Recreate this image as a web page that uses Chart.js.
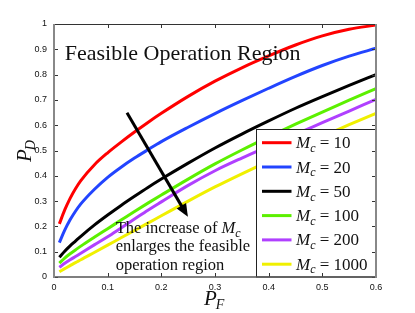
<!DOCTYPE html>
<html>
<head>
<meta charset="utf-8">
<script src="https://cdn.jsdelivr.net/npm/chart.js@4.4.1/dist/chart.umd.min.js"></script>
<style>
  html, body { margin: 0; padding: 0; background: #fff; }
  canvas { display: block; }
</style>
</head>
<body>
<canvas id="chart" width="415" height="313"></canvas>
<script>
// false alarm probability (x) and detection probability per M_c (y)
var pf = [0.01, 0.02, 0.03, 0.04, 0.05, 0.075, 0.1, 0.125, 0.15, 0.175, 0.2, 0.25, 0.3, 0.35, 0.4, 0.45, 0.5, 0.55, 0.6];
var mcValues = [10, 20, 50, 100, 200, 1000];
var pdMc10   = [0.21, 0.265, 0.311, 0.349, 0.381, 0.443, 0.491, 0.533, 0.573, 0.611, 0.647, 0.714, 0.774, 0.827, 0.874, 0.917, 0.953, 0.979, 0.996];
var pdMc20   = [0.136, 0.185, 0.226, 0.26, 0.289, 0.346, 0.394, 0.434, 0.47, 0.503, 0.535, 0.592, 0.646, 0.697, 0.746, 0.793, 0.836, 0.873, 0.904];
var pdMc50   = [0.078, 0.102, 0.123, 0.142, 0.161, 0.205, 0.245, 0.283, 0.319, 0.354, 0.387, 0.45, 0.51, 0.565, 0.617, 0.667, 0.713, 0.757, 0.80];
var pdMc100  = [0.055, 0.075, 0.092, 0.107, 0.122, 0.157, 0.191, 0.225, 0.259, 0.292, 0.324, 0.387, 0.447, 0.502, 0.554, 0.604, 0.652, 0.699, 0.745];
var pdMc200  = [0.038, 0.054, 0.068, 0.081, 0.094, 0.127, 0.159, 0.194, 0.229, 0.264, 0.297, 0.362, 0.42, 0.47, 0.517, 0.564, 0.61, 0.656, 0.702];
var pdMc1000 = [0.021, 0.033, 0.045, 0.057, 0.068, 0.097, 0.126, 0.155, 0.184, 0.213, 0.242, 0.30, 0.356, 0.408, 0.458, 0.507, 0.555, 0.602, 0.647];
var xTicks = [0, 0.1, 0.2, 0.3, 0.4, 0.5, 0.6];
var yTicks = [0, 0.1, 0.2, 0.3, 0.4, 0.5, 0.6, 0.7, 0.8, 0.9, 1];

var colors = ['#ff0000', '#2244ff', '#000000', '#5cf000', '#b040ff', '#f0f000'];
var series = [pdMc10, pdMc20, pdMc50, pdMc100, pdMc200, pdMc1000];

var serif = '"Liberation Serif", "Times New Roman", serif';

function toPoints(ys) {
    return pf.map(function(x, i) { return { x: x, y: ys[i] }; });
}

// draws "M_c = n" style text, returns width
function drawMc(ctx, x, y, size, tail) {
    ctx.textAlign = 'left';
    ctx.textBaseline = 'alphabetic';
    ctx.font = 'italic ' + size + 'px ' + serif;
    ctx.fillText('M', x, y);
    var w = ctx.measureText('M').width;
    ctx.font = 'italic ' + Math.round(size * 0.7) + 'px ' + serif;
    ctx.fillText('c', x + w, y + size * 0.22);
    w += ctx.measureText('c').width;
    if (tail) {
        ctx.font = size + 'px ' + serif;
        ctx.fillText(tail, x + w, y);
        w += ctx.measureText(tail).width;
    }
    return w;
}

var decor = {
    id: 'decor',
    afterDatasetsDraw: function(chart) {
        var ctx = chart.ctx;
        var a = chart.chartArea;
        var xs = chart.scales.x, ys = chart.scales.y;
        ctx.save();

        // title inside plot
        ctx.fillStyle = '#111';
        ctx.font = '22px ' + serif;
        ctx.textAlign = 'left';
        ctx.fillText('Feasible Operation Region', xs.getPixelForValue(0.02), ys.getPixelForValue(0.858));

        // arrow
        var x0 = xs.getPixelForValue(0.136), y0 = ys.getPixelForValue(0.649);
        var x1 = xs.getPixelForValue(0.2495), y1 = ys.getPixelForValue(0.238);
        var ang = Math.atan2(y1 - y0, x1 - x0);
        var head = 14;
        ctx.strokeStyle = '#000';
        ctx.lineWidth = 3;
        ctx.beginPath();
        ctx.moveTo(x0, y0);
        ctx.lineTo(x1 - Math.cos(ang) * head * 0.8, y1 - Math.sin(ang) * head * 0.8);
        ctx.stroke();
        ctx.fillStyle = '#000';
        ctx.beginPath();
        ctx.moveTo(x1, y1);
        ctx.lineTo(x1 - head * Math.cos(ang - 0.4), y1 - head * Math.sin(ang - 0.4));
        ctx.lineTo(x1 - head * Math.cos(ang + 0.4), y1 - head * Math.sin(ang + 0.4));
        ctx.closePath();
        ctx.fill();

        // annotation text
        ctx.fillStyle = '#111';
        var tx = xs.getPixelForValue(0.115), ty = ys.getPixelForValue(0.174);
        ctx.font = '16.5px ' + serif;
        ctx.fillText('The increase of ', tx, ty);
        var w = ctx.measureText('The increase of ').width;
        drawMc(ctx, tx + w, ty, 16.5, '');
        ctx.font = '16.5px ' + serif;
        ctx.fillText('enlarges the feasible', tx, ty + 18.5);
        ctx.fillText('operation region', tx, ty + 37);

        // legend box
        var lx = a.right - 119.5, ly = 129.5, lw = 119.5, lh = a.bottom - ly;
        ctx.fillStyle = '#fff';
        ctx.fillRect(lx, ly, lw, lh);
        ctx.strokeStyle = '#222';
        ctx.lineWidth = 1;
        ctx.strokeRect(lx, ly, lw, lh);
        chart.data.datasets.forEach(function(ds, i) {
            var cy = 142.7 + i * 24.3;
            ctx.strokeStyle = ds.borderColor;
            ctx.lineWidth = 3;
            ctx.beginPath();
            ctx.moveTo(lx + 5.5, cy);
            ctx.lineTo(lx + 35, cy);
            ctx.stroke();
            ctx.fillStyle = '#111';
            drawMc(ctx, lx + 39.5, cy + 5.5, 17, ' = ' + mcValues[i]);
        });

        // box and inward ticks
        ctx.lineCap = 'butt';
        ctx.strokeStyle = '#333';
        ctx.lineWidth = 1;
        xTicks.forEach(function(v) {
            var px = Math.round(xs.getPixelForValue(v)) + 0.5;
            ctx.beginPath();
            ctx.moveTo(px, a.bottom); ctx.lineTo(px, a.bottom - 4);
            ctx.moveTo(px, a.top); ctx.lineTo(px, a.top + 4);
            ctx.stroke();
        });
        yTicks.forEach(function(v) {
            var py = Math.round(ys.getPixelForValue(v)) + 0.5;
            ctx.beginPath();
            ctx.moveTo(a.left, py); ctx.lineTo(a.left + 4, py);
            ctx.moveTo(a.right, py); ctx.lineTo(a.right - 4, py);
            ctx.stroke();
        });
        ctx.strokeStyle = '#333';
        ctx.lineWidth = 1;
        ctx.beginPath();
        ctx.moveTo(a.left, a.top + 0.5); ctx.lineTo(a.right, a.top + 0.5);
        ctx.stroke();
        ctx.strokeStyle = '#555';
        ctx.lineWidth = 1.5;
        ctx.beginPath();
        ctx.moveTo(a.left, a.bottom); ctx.lineTo(a.right, a.bottom);
        ctx.stroke();
        ctx.strokeStyle = '#888';
        ctx.lineWidth = 2;
        ctx.beginPath();
        ctx.moveTo(a.left, a.top); ctx.lineTo(a.left, a.bottom + 1);
        ctx.moveTo(a.right, a.top); ctx.lineTo(a.right, a.bottom + 1);
        ctx.stroke();

        // axis titles
        ctx.fillStyle = '#111';
        ctx.font = 'italic 21px ' + serif;
        ctx.textAlign = 'left';
        ctx.fillText('P', 204, 305);
        var pw = ctx.measureText('P').width;
        ctx.font = 'italic 14px ' + serif;
        ctx.fillText('F', 204 + pw - 1, 309);

        ctx.translate(31, 162);
        ctx.rotate(-Math.PI / 2);
        ctx.font = 'italic 21px ' + serif;
        ctx.fillText('P', 0, 0);
        pw = ctx.measureText('P').width;
        ctx.font = 'italic 14px ' + serif;
        ctx.fillText('D', pw - 1, 4);
        ctx.restore();
    }
};

var datasets = series.map(function(ys, i) {
    return {
        label: 'M_c = ' + mcValues[i],
        data: toPoints(ys),
        borderColor: colors[i],
        backgroundColor: colors[i],
        borderWidth: 3,
        pointRadius: 0,
        fill: false,
        cubicInterpolationMode: 'monotone'
    };
});

var tickFont = { family: '"Liberation Sans", Arial, sans-serif', size: 9 };

new Chart(document.getElementById('chart'), {
    type: 'line',
    data: { datasets: datasets },
    plugins: [decor],
    options: {
        responsive: false,
        animation: false,
        layout: { padding: { top: 24, right: 39, left: 0, bottom: 0 } },
        plugins: {
            legend: { display: false },
            tooltip: { enabled: false }
        },
        scales: {
            x: {
                type: 'linear',
                min: 0,
                max: 0.6,
                afterFit: function(s) { s.height = 36; },
                afterBuildTicks: function(s) { s.ticks = xTicks.map(function(v) { return { value: v }; }); },
                grid: { display: false, drawTicks: false },
                border: { display: false },
                ticks: {
                    padding: 5,
                    color: '#111',
                    font: tickFont,
                    maxRotation: 0,
                    callback: function(v) { return String(+v.toFixed(1)); }
                }
            },
            y: {
                type: 'linear',
                min: 0,
                max: 1,
                afterFit: function(s) { s.width = 54; },
                afterBuildTicks: function(s) { s.ticks = yTicks.map(function(v) { return { value: v }; }); },
                grid: { display: false, drawTicks: false },
                border: { display: false },
                ticks: {
                    padding: 7,
                    color: '#111',
                    font: tickFont,
                    callback: function(v) { return String(+v.toFixed(1)); }
                }
            }
        }
    }
});
</script>
</body>
</html>
